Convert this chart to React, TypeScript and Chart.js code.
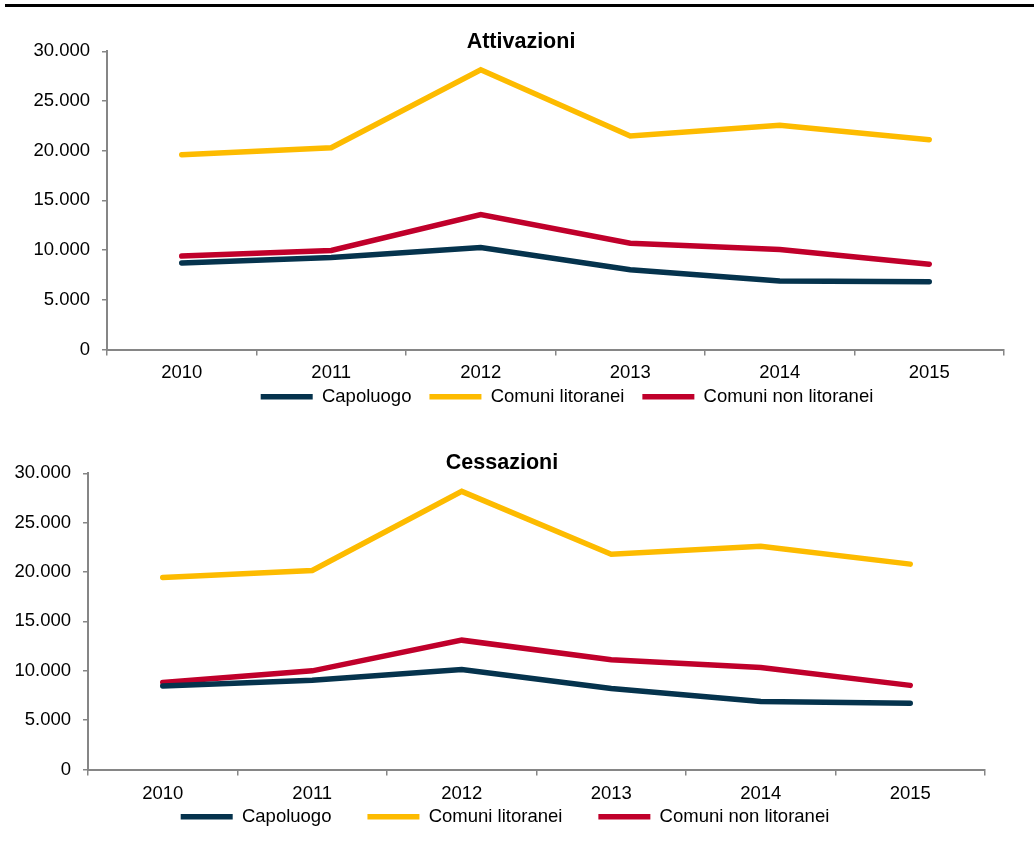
import React, { useEffect, useRef } from "react";
import { Chart, registerables } from "chart.js";

Chart.register(...registerables);

const years = ["2010", "2011", "2012", "2013", "2014", "2015"];
const seriesNames = ["Capoluogo", "Comuni litoranei", "Comuni non litoranei"];
const seriesColors = ["#05334D", "#FDBB00", "#C0002B"];
const yMin = 0;
const yMax = 30000;
const yStep = 5000;

const attivazioniCapoluogo = [8700, 9250, 10250, 8030, 6900, 6820];
const attivazioniLitoranei = [19600, 20300, 28150, 21480, 22550, 21100];
const attivazioniNonLitoranei = [9400, 9970, 13580, 10700, 10050, 8570];

const cessazioniCapoluogo = [8460, 9050, 10130, 8200, 6880, 6720];
const cessazioniLitoranei = [19450, 20150, 28170, 21800, 22620, 20800];
const cessazioniNonLitoranei = [8810, 9990, 13100, 11120, 10320, 8520];

const FONT = '"Liberation Sans", Arial, Helvetica, sans-serif';

function fmt(v: number): string {
  return String(v).replace(/\B(?=(\d{3})+(?!\d))/g, ".");
}

const shiftPlugin = {
  id: "shift",
  afterLayout(chart: any, _args: any, opts: any) {
    if (chart.titleBlock) {
      chart.titleBlock.left += opts.title || 0;
      chart.titleBlock.right += opts.title || 0;
    }
    if (chart.legend) {
      chart.legend.left += opts.legend || 0;
      chart.legend.right += opts.legend || 0;
      chart.legend.top += opts.legendY || 0;
      chart.legend.bottom += opts.legendY || 0;
    }
  },
};

type Props = {
  title: string;
  series: number[][];
  left: number;
  top: number;
  width: number;
  height: number;
  yWidth: number;
  padRight: number;
  titlePadTop: number;
  titlePadBottom: number;
  xTickPad: number;
  xHeight: number;
  legendPad: number;
  shiftTitle: number;
  shiftLegend: number;
  shiftLegendY: number;
};

function LineChart(p: Props) {
  const ref = useRef<HTMLCanvasElement | null>(null);
  useEffect(() => {
    if (!ref.current) return;
    const chart = new Chart(ref.current, {
      type: "line",
      data: {
        labels: years,
        datasets: p.series.map((vals, i) => ({
          label: seriesNames[i],
          data: vals,
          borderColor: seriesColors[i],
          backgroundColor: seriesColors[i],
          borderWidth: 5.5,
          borderCapStyle: "round",
          borderJoinStyle: "miter",
          pointRadius: 0,
          pointHoverRadius: 0,
          tension: 0,
          fill: false,
        })),
      },
      options: {
        responsive: false,
        animation: false,
        devicePixelRatio: 1,
        events: [],
        layout: { padding: { left: 0, right: p.padRight, top: 0, bottom: 0 } },
        scales: {
          x: {
            type: "category",
            offset: true,
            grid: {
              offset: true,
              drawOnChartArea: false,
              drawTicks: true,
              tickLength: 6,
              color: "#868686",
              lineWidth: 1.5,
            },
            border: { display: true, color: "#868686", width: 2 },
            ticks: {
              color: "#000000",
              padding: p.xTickPad,
              font: { family: FONT, size: 18.5 },
              maxRotation: 0,
              autoSkip: false,
            },
            afterFit: (scale: any) => {
              scale.height = p.xHeight;
            },
          },
          y: {
            min: yMin,
            max: yMax,
            grid: {
              drawOnChartArea: false,
              drawTicks: true,
              tickLength: 5,
              color: "#868686",
              lineWidth: 1.5,
            },
            border: { display: true, color: "#868686", width: 2 },
            ticks: {
              stepSize: yStep,
              color: "#000000",
              padding: 12,
              font: { family: FONT, size: 18.5 },
              callback: (v: any) => fmt(Number(v)),
            },
            afterFit: (scale: any) => {
              scale.width = p.yWidth;
            },
          },
        },
        plugins: {
          title: {
            display: true,
            text: p.title,
            color: "#000000",
            font: { family: FONT, size: 21.5, weight: "bold", lineHeight: 1.2 },
            padding: { top: p.titlePadTop, bottom: p.titlePadBottom },
          },
          legend: {
            display: true,
            position: "bottom",
            labels: {
              color: "#000000",
              font: { family: FONT, size: 18.5 },
              usePointStyle: true,
              pointStyle: "line",
              pointStyleWidth: 52,
              boxHeight: 5,
              padding: p.legendPad,
            },
          },
          tooltip: { enabled: false },
          shift: { title: p.shiftTitle, legend: p.shiftLegend, legendY: p.shiftLegendY },
        } as any,
      },
      plugins: [shiftPlugin as any],
    } as any);
    return () => chart.destroy();
  }, []);
  return (
    <div
      style={{
        position: "absolute",
        left: p.left,
        top: p.top,
        width: p.width,
        height: p.height,
      }}
    >
      <canvas
        ref={ref}
        width={p.width}
        height={p.height}
        style={{ display: "block", width: p.width, height: p.height }}
      />
    </div>
  );
}

export default function App() {
  return (
    <div
      style={{
        position: "absolute",
        left: 0,
        top: 0,
        width: 1034,
        height: 848,
        overflow: "hidden",
        background: "#ffffff",
      }}
    >
      <div
        style={{
          position: "absolute",
          left: 5,
          top: 4,
          width: 1029,
          height: 3,
          background: "#000000",
        }}
      />
      <LineChart
        title="Attivazioni"
        series={[attivazioniCapoluogo, attivazioniLitoranei, attivazioniNonLitoranei]}
        left={8}
        top={14}
        width={1026}
        height={418}
        yWidth={99}
        padRight={30}
        titlePadTop={15.1}
        titlePadBottom={-3.6}
        xTickPad={6}
        xHeight={36}
        legendPad={18}
        shiftTitle={15}
        shiftLegend={61}
        shiftLegendY={-16}
      />
      <LineChart
        title="Cessazioni"
        series={[cessazioniCapoluogo, cessazioniLitoranei, cessazioniNonLitoranei]}
        left={8}
        top={436}
        width={988}
        height={434}
        yWidth={80}
        padRight={11}
        titlePadTop={14.1}
        titlePadBottom={-2.6}
        xTickPad={7}
        xHeight={36}
        legendPad={36}
        shiftTitle={5.5}
        shiftLegend={8.5}
        shiftLegendY={-34}
      />
    </div>
  );
}
